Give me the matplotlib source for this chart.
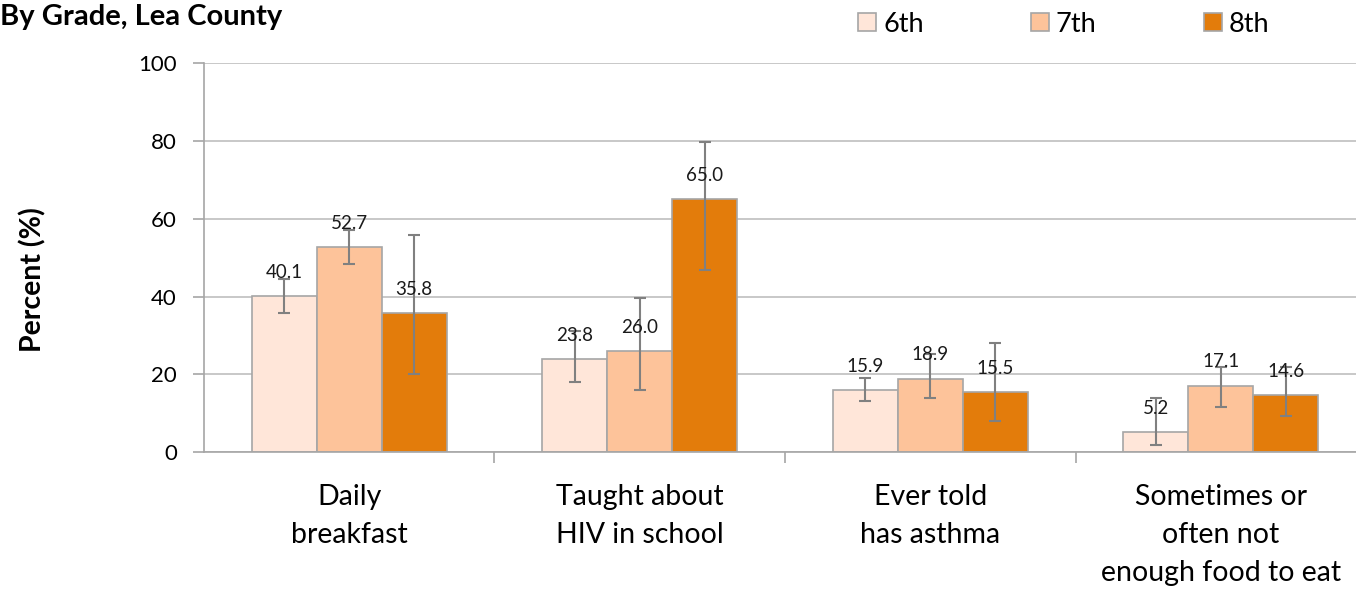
import matplotlib
matplotlib.use("Agg")
import matplotlib.pyplot as plt
import numpy as np
from matplotlib.patches import Patch

plt.rcParams['font.family'] = ['Lato', 'DejaVu Sans']

categories = ["Daily\nbreakfast", "Taught about\nHIV in school", "Ever told\nhas asthma",
              "Sometimes or\noften not\nenough food to eat"]
grades = ["6th", "7th", "8th"]
values = {
    "6th": [40.1, 23.8, 15.9, 5.2],
    "7th": [52.7, 26.0, 18.9, 17.1],
    "8th": [35.8, 65.0, 15.5, 14.6],
}
ci_low = {
    "6th": [35.7, 18.0, 13.1, 1.8],
    "7th": [48.4, 15.9, 13.9, 11.6],
    "8th": [20.0, 46.8, 8.0, 9.3],
}
ci_high = {
    "6th": [44.5, 31.1, 19.0, 13.9],
    "7th": [57.0, 39.6, 25.2, 21.9],
    "8th": [55.8, 79.7, 28.0, 21.9],
}
colors = {"6th": "#FFE6D9", "7th": "#FDC39A", "8th": "#E37C0B"}

fig = plt.figure(figsize=(13.56, 5.89), dpi=100)
ax = fig.add_axes([0.1504, 0.2326, 0.857, 0.660])

x = np.arange(len(categories))
w = 0.224
for i, g in enumerate(grades):
    v = np.array(values[g])
    lo = v - np.array(ci_low[g])
    hi = np.array(ci_high[g]) - v
    xs = x + (i - 1) * w
    ax.bar(xs, v, width=w, color=colors[g], edgecolor="#A6A6A6", linewidth=1.2, zorder=2)
    ax.errorbar(xs, v, yerr=[lo, hi], fmt="none", ecolor="#808080", elinewidth=1.5,
                capsize=4.5, capthick=1.5, zorder=3)
    for xi, vi in zip(xs, v):
        ax.annotate(f"{vi:.1f}", (xi, vi), xytext=(0, 13), textcoords="offset points",
                    ha="center", va="baseline", fontsize=13.5, color="#1a1a1a", zorder=4)

ax.set_xlim(-0.5, 3.5)
ax.set_ylim(0, 100)
ax.set_yticks([0, 20, 40, 60, 80, 100])
ax.yaxis.grid(True, color="#BFBFBF", linewidth=1.2, zorder=0)
ax.set_axisbelow(True)
ax.set_xticks(x)
ax.set_xticklabels(categories, fontsize=20.5, linespacing=1.58)
ax.set_xticks([0.5, 1.5, 2.5], minor=True)
ax.tick_params(axis="x", which="major", length=0, pad=23)
ax.tick_params(axis="x", which="minor", length=8, color="#A6A6A6", width=1.2)
ax.tick_params(axis="y", length=8, color="#A6A6A6", width=1.2, labelsize=16, pad=11.5)
for s in ["top", "right"]:
    ax.spines[s].set_visible(False)
for s in ["left", "bottom"]:
    ax.spines[s].set_color("#A6A6A6")
    ax.spines[s].set_linewidth(1.2)

fig.text(33 / 1356, 1 - 280 / 589, "Percent (%)", fontsize=20.5, fontweight="bold",
         rotation=90, ha="center", va="center")

fig.text(0.0, 1 - 25 / 589, "By Grade, Lea County", fontsize=21, fontweight="bold",
         ha="left", va="baseline")

handles = [Patch(facecolor=colors[g], edgecolor="#A6A6A6", linewidth=1.2) for g in grades]
fig.legend(handles, grades, ncol=3, loc="center left", bbox_to_anchor=(858 / 1356, 1 - 24 / 589),
           frameon=False, fontsize=19.5, handlelength=0.67, handleheight=0.67,
           handletextpad=0.26, columnspacing=3.95, borderaxespad=0, borderpad=0)

fig.savefig("out.png", dpi=100)
